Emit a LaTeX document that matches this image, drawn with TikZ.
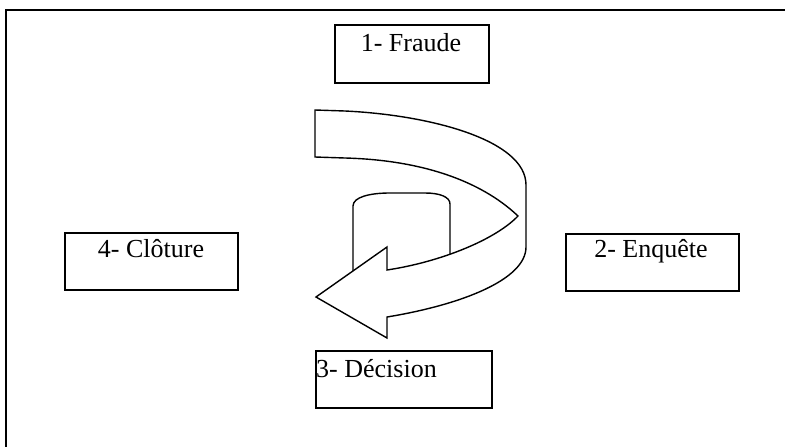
\documentclass[tikz,border=0pt]{standalone}
\usepackage{fontspec}
\setmainfont{Liberation Serif}
\begin{document}
\begin{tikzpicture}[x=1pt,y=-1pt,
  stagebox/.style={draw,line width=1.6pt,rectangle,inner sep=0pt,anchor=north west},
  stagetext/.style={inner sep=0pt,font=\fontsize{26}{30}\selectfont},
  outline/.style={line width=1.4pt,line join=miter}]
\useasboundingbox (0,0) rectangle (785,447);
\fill[white] (0,0) rectangle (785,447);

% frame (left and top sides)
\coordinate (fbl) at (6,447);
\coordinate (ftl) at (6,10);
\coordinate (ftr) at (785,10);
\draw[line width=1.7pt] (fbl) -- (ftl) -- (ftr);

% stage boxes
\node[stagebox,minimum width=154pt,minimum height=58pt] (fraude) at (334,24) {};
\node[stagebox,minimum width=173pt,minimum height=57pt] (cloture) at (64,232) {};
\node[stagebox,minimum width=173pt,minimum height=57pt] (enquete) at (565,233) {};
\node[stagebox,minimum width=176pt,minimum height=57pt] (decision) at (315,350) {};

\node[stagetext,anchor=base] (tfraude) at (411,51.5) {1- Fraude};
\node[stagetext,anchor=base] (tcloture) at (151,257) {4- Clôture};
\node[stagetext,anchor=base] (tenquete) at (651,257) {2- Enquête};
\node[stagetext,anchor=base west] (tdecision) at (316,377) {3- Décision};

% drum seen through the loop of the arrow
\draw[outline] (353,290) -- (353,206)
  .. controls (353,197) and (370,193) .. (390,193) -- (425,193)
  .. controls (440,193) and (450,197) .. (450,204) -- (450,290);

% curled ribbon arrow
\filldraw[outline,fill=white] (315,110) -- (345,111)
  .. controls (430,115) and (526,140) .. (526,185)
  -- (526,247)
  .. controls (526,280) and (460,305) .. (387,317)
  -- (387,338) -- (316,297) -- (387,247) -- (387,270)
  .. controls (440,262) and (495,240) .. (518,216)
  .. controls (480,180) and (420,160) .. (345,158)
  -- (315,157) -- cycle;
\end{tikzpicture}
\end{document}
